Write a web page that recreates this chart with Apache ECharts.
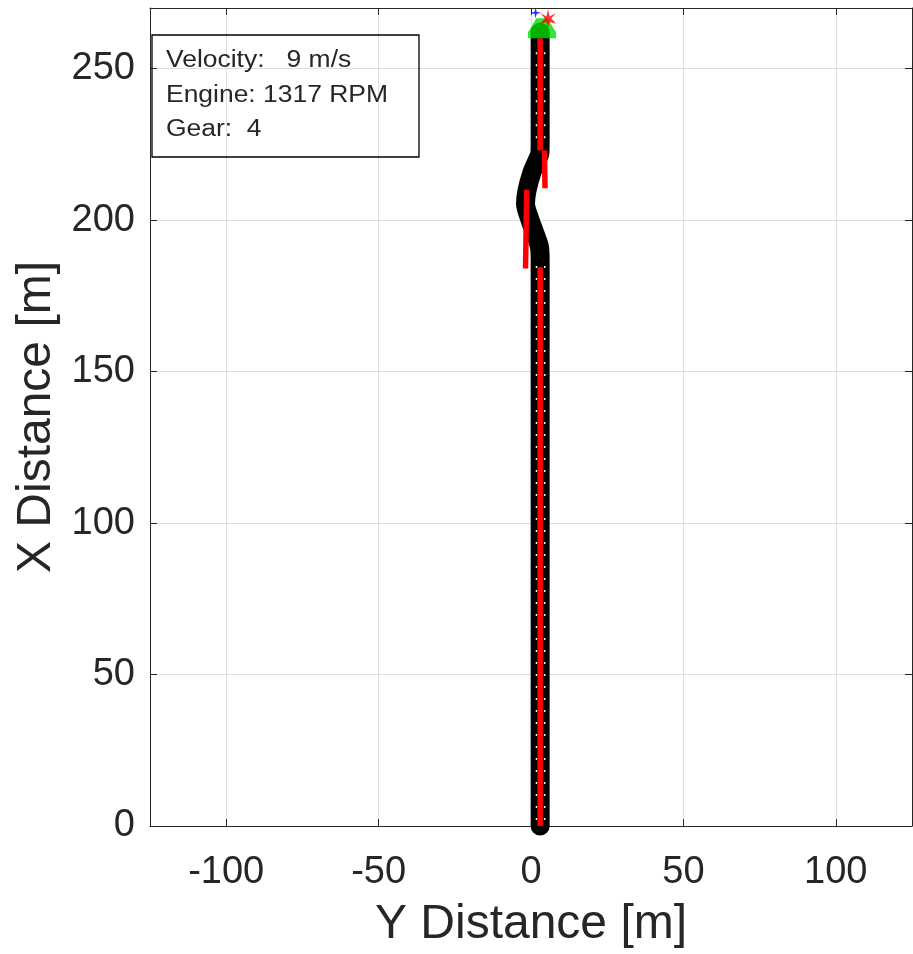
<!DOCTYPE html>
<html>
<head>
<meta charset="utf-8">
<script src="https://cdn.jsdelivr.net/npm/echarts@6/dist/echarts.min.js"></script>
<style>
html,body{margin:0;padding:0;background:#fff;}
#chart{width:913px;height:954px;}
</style>
</head>
<body>
<div id="chart"></div>
<script>
// ---- data ----
const xTickValues = [-100, -50, 0, 50, 100];
const yTickValues = [0, 50, 100, 150, 200, 250];
// road band centreline (Y distance, X distance)
const roadX = [3, 3, 2.8, 1.3, -0.3, -1.8, -1.3, 0.2, 2.0, 2.9, 3, 3];
const roadY = [0, 187, 191, 195.6, 200, 205.5, 209.8, 215.4, 219.7, 222, 226, 262];
// red lane path segments
const laneA = [[3, 0], [3, 184.4]];
const laneB = [[-1.8, 184], [-1.4, 210]];
const laneC = [[4.6, 210.5], [4.4, 223]];
const laneD = [[3, 223], [3, 260]];
// white lane marks (left / right of centre)
const marksLeft = [[1.8, 2], [1.8, 186]];
const marksRight = [[4.5, 2], [4.5, 186]];
const marksLeftTop = [[1.8, 227], [1.8, 257]];
const marksRightTop = [[4.5, 227], [4.5, 257]];
// vehicle markers
const carPos = [[3.6, 263.3]];
const bluePos = [[1.5, 268.4]];
const redPos = [[5.6, 266.6]];
// info text
const infoLines = ['Velocity:   9 m/s', 'Engine: 1317 RPM', 'Gear:  4'];

const roadData = roadX.map((x, i) => [x, roadY[i]]);

const axisColor = '#262626';
const gridColor = '#dedede';
const fontFam = '"Liberation Sans", Arial, sans-serif';

const chart = echarts.init(document.getElementById('chart'), null, {renderer: 'canvas'});

function laneSeries(data, color, width, dash) {
  return {
    type: 'line', data: data, symbol: 'none', clip: false, silent: true,
    lineStyle: {color: color, width: width, type: dash || 'solid', cap: 'butt'},
    z: 3
  };
}

const option = {
  animation: false,
  backgroundColor: '#fff',
  grid: {left: 150, right: 1, top: 8, bottom: 128, containLabel: false},
  xAxis: [{
    type: 'value', min: -125, max: 125,
    name: 'Y Distance [m]', nameLocation: 'middle', nameGap: 75,
    nameTextStyle: {fontSize: 48, color: axisColor, fontFamily: fontFam},
    axisLine: {show: true, onZero: false, lineStyle: {color: axisColor, width: 1}},
    axisTick: {show: true, inside: true, length: 7, customValues: xTickValues, lineStyle: {color: axisColor}},
    axisLabel: {show: true, customValues: xTickValues, margin: 28, fontSize: 38, color: axisColor, fontFamily: fontFam},
    splitLine: {show: true, lineStyle: {color: gridColor, width: 1}}
  }, {
    type: 'value', min: -125, max: 125, position: 'top',
    axisLine: {show: true, onZero: false, lineStyle: {color: axisColor, width: 1}},
    axisTick: {show: true, inside: true, length: 7, customValues: xTickValues, lineStyle: {color: axisColor}},
    axisLabel: {show: false},
    splitLine: {show: false}
  }],
  yAxis: [{
    type: 'value', min: 0, max: 270,
    name: 'X Distance [m]', nameLocation: 'middle', nameGap: 88,
    nameTextStyle: {fontSize: 48, color: axisColor, fontFamily: fontFam},
    axisLine: {show: true, onZero: false, lineStyle: {color: axisColor, width: 1}},
    axisTick: {show: true, inside: true, length: 7, customValues: yTickValues, lineStyle: {color: axisColor}},
    axisLabel: {show: true, customValues: yTickValues, margin: 15, fontSize: 38, color: axisColor, fontFamily: fontFam},
    splitLine: {show: true, lineStyle: {color: gridColor, width: 1}}
  }, {
    type: 'value', min: 0, max: 270, position: 'right',
    axisLine: {show: true, onZero: false, lineStyle: {color: axisColor, width: 1}},
    axisTick: {show: true, inside: true, length: 7, customValues: yTickValues, lineStyle: {color: axisColor}},
    axisLabel: {show: false},
    splitLine: {show: false}
  }],
  series: [
    {
      type: 'line', data: roadData, symbol: 'none', smooth: 0.3, clip: false, silent: true,
      lineStyle: {color: '#000', width: 19, cap: 'round', join: 'round'}, z: 2
    },
    laneSeries(marksLeft, '#ffffff', 1.5, [2, 10]),
    laneSeries(marksRight, '#ffffff', 1.5, [2, 10]),
    laneSeries(marksLeftTop, '#ffffff', 1.5, [2, 10]),
    laneSeries(marksRightTop, '#ffffff', 1.5, [2, 10]),
    Object.assign(laneSeries(laneA, '#ff0000', 5.5), {z: 4}),
    Object.assign(laneSeries(laneB, '#ff0000', 5.5), {z: 4}),
    Object.assign(laneSeries(laneC, '#ff0000', 5.5), {z: 4}),
    Object.assign(laneSeries(laneD, '#ff0000', 5.5), {z: 4}),
    {
      type: 'scatter', data: carPos, clip: false, silent: true,
      symbol: 'path://M3,0 L7,0 L10,7 L10,10 L0,10 L0,7 Z', symbolSize: [28, 20],
      itemStyle: {color: '#00e000'}, z: 5
    },
    {
      type: 'scatter', data: redPos, clip: false, silent: true,
      symbol: 'path://M5,0 L6,4 L10,2 L7,5 L10,8 L6,7 L5,10 L4,7 L0,8 L3,5 L0,2 L4,4 Z', symbolSize: [16, 18],
      itemStyle: {color: '#ff0000'}, z: 6
    },
    {
      type: 'scatter', data: bluePos, clip: false, silent: true,
      symbol: 'path://M5,0 L6,4 L10,5 L6,6 L5,10 L4,6 L0,5 L4,4 Z', symbolSize: [11, 11],
      itemStyle: {color: '#0000ff'}, z: 6
    }
  ],
  graphic: [
    {
      type: 'rect', shape: {x: 152, y: 35, width: 267, height: 122}, z: 10,
      style: {fill: 'none', stroke: '#000', lineWidth: 1.3}
    },
    {
      type: 'text', x: 166, y: 61, scaleX: 1.15, z: 11,
      style: {text: infoLines[0], font: '23px ' + fontFam, fill: axisColor, verticalAlign: 'middle', align: 'left'}
    },
    {
      type: 'text', x: 166, y: 96, scaleX: 1.15, z: 11,
      style: {text: infoLines[1], font: '23px ' + fontFam, fill: axisColor, verticalAlign: 'middle', align: 'left'}
    },
    {
      type: 'text', x: 166, y: 130, scaleX: 1.15, z: 11,
      style: {text: infoLines[2], font: '23px ' + fontFam, fill: axisColor, verticalAlign: 'middle', align: 'left'}
    }
  ]
};
chart.setOption(option);
</script>
</body>
</html>
